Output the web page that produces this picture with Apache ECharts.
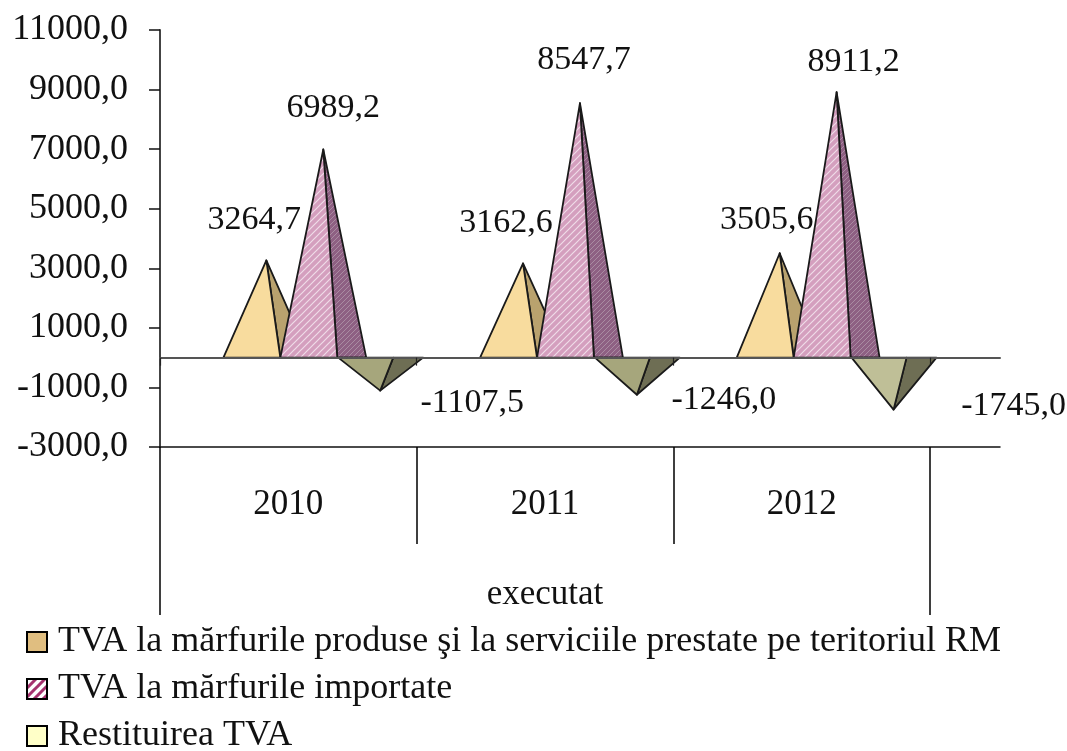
<!DOCTYPE html>
<html>
<head>
<meta charset="utf-8">
<style>html,body{margin:0;padding:0;background:#fff}#main{width:1067px;height:751px}</style>
<script src="https://cdn.jsdelivr.net/npm/echarts@6/dist/echarts.min.js"></script>
</head>
<body>
<div id="main"></div>
<script>
const years = ['2010', '2011', '2012'];
const groupName = ['executat'];
const seriesNames = [
    'TVA la mărfurile produse şi la serviciile prestate pe teritoriul RM',
    'TVA la mărfurile importate',
    'Restituirea TVA'
];
const tvaProduse = [3264.7, 3162.6, 3505.6];
const tvaImport = [6989.2, 8547.7, 8911.2];
const restituire = [-1107.5, -1246.0, -1745.0];
const yTicks = [-3000, -1000, 1000, 3000, 5000, 7000, 9000, 11000];
const bandEdges = [0, 1, 2, 3];

const FONT = '"Liberation Serif", "Times New Roman", serif';
const fmt = function (v) { return v.toFixed(1).replace('.', ','); };

// diagonal fill for the pink pyramids and the legend box
function makePattern(size, width, base, line) {
    const c = document.createElement('canvas');
    c.width = c.height = size;
    const ctx = c.getContext('2d');
    ctx.fillStyle = base;
    ctx.fillRect(0, 0, size, size);
    ctx.strokeStyle = line;
    ctx.lineWidth = width;
    ctx.beginPath();
    ctx.moveTo(-1, size + 1); ctx.lineTo(size + 1, -1);
    ctx.moveTo(-1, 1); ctx.lineTo(1, -1);
    ctx.moveTo(size - 1, size + 1); ctx.lineTo(size + 1, size - 1);
    ctx.stroke();
    return { image: c, repeat: 'repeat' };
}
const pinkFront = makePattern(7, 1.2, '#d49fbe', '#efdce8');
const pinkSide = makePattern(5, 1, '#8e6083', '#aa8ba2');
const legendStripes = makePattern(9, 3, '#ffffff', '#a5326f');

// pyramid look per series: offsets are shares of one category band
const looks = [
    { left: -65 / 257, front: 57 / 257, apex: 43 / 257, depth: 29 / 257, fill: ['#f8dc9e'], side: ['#b9a26e'] },
    { left: -8 / 257, front: 57 / 257, apex: 43 / 257, depth: 29 / 257, fill: [pinkFront], side: [pinkSide] },
    { left: 50 / 257, front: 55 / 257, apex: 42 / 257, depth: 30 / 257, fill: ['#a6a67c', '#a6a67c', '#bfbf97'], side: ['#6e6e54'] }
];
// hand placed value labels, px from the apex
const labelShift = [
    [[-12, -40], [-17, -40], [-13, -33]],
    [[10, -41], [4, -43], [17, -30]],
    [[92, 12], [87, 5], [120, -4]]
];

function pyramid(seriesIdx) {
    return function (params, api) {
        const i = api.value(0);
        const val = api.value(1);
        const look = looks[seriesIdx];
        const p = api.coord([i, val]);
        const y0 = api.coord([i, 0])[1];
        const band = api.size([1, 0])[0];
        const l = p[0] + look.left * band;
        const r = l + look.front * band;
        const b = r + look.depth * band;
        const a = l + look.apex * band;
        const fill = look.fill[i] || look.fill[0];
        const side = look.side[i] || look.side[0];
        const shift = labelShift[seriesIdx][i];
        return {
            type: 'group',
            children: [
                {
                    type: 'polygon',
                    shape: { points: [[r, y0], [b, y0], [a, p[1]]] },
                    style: { fill: side, stroke: '#1a1a1a', lineWidth: 1.8, lineJoin: 'round' }
                },
                {
                    type: 'polygon',
                    shape: { points: [[l, y0], [r, y0], [a, p[1]]] },
                    style: { fill: fill, stroke: '#1a1a1a', lineWidth: 1.8, lineJoin: 'round' }
                },
                {
                    type: 'text',
                    x: a + shift[0],
                    y: p[1] + shift[1],
                    style: {
                        text: fmt(val),
                        font: '34px ' + FONT,
                        fill: '#111',
                        align: 'center',
                        verticalAlign: 'middle'
                    }
                }
            ]
        };
    };
}

function toData(values) {
    return values.map(function (v, i) { return [i, v]; });
}

const gridLeft = 160;
const gridTop = 30;
const gridH = 417;
const bandsW = 770;
const fullW = 840;
const yRange = { min: -3000, max: 11000 };
const option = {
    animation: false,
    backgroundColor: '#fff',
    textStyle: { fontFamily: FONT },
    legend: {
        orient: 'vertical',
        left: 26,
        top: 624,
        height: 140,
        padding: 0,
        itemWidth: 20,
        itemHeight: 20,
        itemGap: 11,
        textStyle: { fontFamily: FONT, fontSize: 36, color: '#111', padding: [13, 0, 0, 6] },
        data: [
            { name: seriesNames[0], icon: 'rect', itemStyle: { color: '#e0be80', borderColor: '#000', borderWidth: 2 } },
            { name: seriesNames[1], icon: 'rect', itemStyle: { color: legendStripes, borderColor: '#000', borderWidth: 2 } },
            { name: seriesNames[2], icon: 'rect', itemStyle: { color: '#ffffc8', borderColor: '#000', borderWidth: 2 } }
        ]
    },
    grid: [
        { left: gridLeft, top: gridTop, width: bandsW, height: gridH },
        { left: gridLeft, top: gridTop, width: fullW, height: gridH }
    ],
    xAxis: [
        {
            type: 'category',
            gridIndex: 0,
            data: years,
            position: 'bottom',
            axisLine: { show: false, onZero: false },
            axisTick: { show: true, length: 97, lineStyle: { color: '#000', width: 1.5 } },
            axisLabel: { fontFamily: FONT, fontSize: 35, color: '#111', margin: 40 }
        },
        {
            type: 'category',
            gridIndex: 0,
            data: groupName,
            position: 'bottom',
            axisLine: { show: false, onZero: false },
            axisTick: { show: true, length: 168, lineStyle: { color: '#000', width: 1.5 } },
            axisLabel: { fontFamily: FONT, fontSize: 35, color: '#111', margin: 130 }
        },
        {
            // zero line, runs past the last category
            type: 'value',
            gridIndex: 1,
            min: 0,
            max: fullW / (bandsW / 3),
            z: 8,
            axisLine: { onZero: true, lineStyle: { color: '#555', width: 2 } },
            axisTick: { show: true, length: 8, customValues: bandEdges, lineStyle: { color: '#222', width: 1.2 } },
            axisLabel: { show: false },
            splitLine: { show: false }
        },
        {
            type: 'value',
            gridIndex: 1,
            min: 0,
            max: 1,
            position: 'bottom',
            axisLine: { onZero: false, lineStyle: { color: '#111', width: 1.5 } },
            axisTick: { show: false },
            axisLabel: { show: false },
            splitLine: { show: false }
        }
    ],
    yAxis: [
        {
            type: 'value',
            gridIndex: 0,
            min: yRange.min,
            max: yRange.max,
            axisLine: { show: true, onZero: false, lineStyle: { color: '#444', width: 2 } },
            axisTick: { show: true, length: 11, customValues: yTicks, lineStyle: { color: '#111', width: 1.5 } },
            axisLabel: {
                customValues: yTicks,
                fontFamily: FONT,
                fontSize: 36,
                color: '#111',
                margin: 32,
                padding: [5, 0, 0, 0],
                formatter: fmt
            },
            splitLine: { show: false }
        },
        {
            type: 'value',
            gridIndex: 1,
            min: yRange.min,
            max: yRange.max,
            show: false
        }
    ],
    series: [tvaProduse, tvaImport, restituire].map(function (values, k) {
        return {
            type: 'custom',
            name: seriesNames[k],
            xAxisIndex: 0,
            yAxisIndex: 0,
            renderItem: pyramid(k),
            data: toData(values),
            z: 3 + k
        };
    })
};

const chart = echarts.init(document.getElementById('main'));
chart.setOption(option);
</script>
</body>
</html>
